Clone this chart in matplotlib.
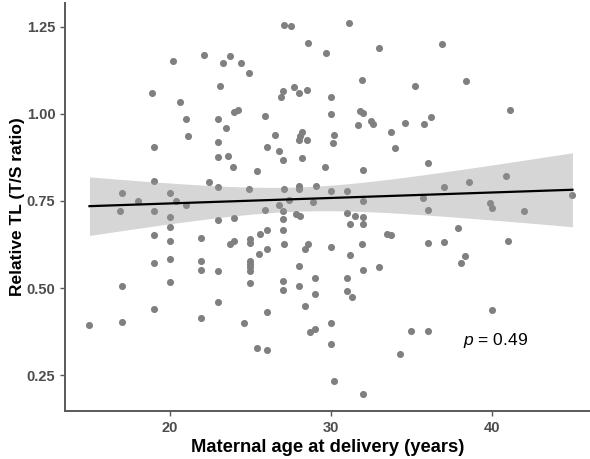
import numpy as np
import matplotlib
matplotlib.use("Agg")
import matplotlib.pyplot as plt

plt.rcParams['font.family'] = ['Liberation Sans', 'DejaVu Sans']
plt.rcParams['mathtext.fontset'] = 'custom'
plt.rcParams['mathtext.it'] = 'Liberation Sans:italic'
plt.rcParams['mathtext.rm'] = 'Liberation Sans'

# maternal age at delivery (years) and relative telomere length (T/S ratio)
age = [
    20.2, 18.9, 20.6, 19.0, 19.0, 17.0, 18.0, 20.0, 20.4, 16.9,
    19.0, 20.0, 20.0, 19.0, 20.0, 19.0, 20.0, 20.0, 17.0, 19.0,
    15.0, 17.0, 21.0, 21.1, 21.0, 22.1, 23.3, 23.7, 24.4, 24.9,
    23.1, 23.0, 23.5, 24.0, 24.2, 23.0, 23.0, 23.6, 23.9, 22.4,
    23.0, 24.9, 25.4, 25.9, 27.1, 27.5, 28.6, 29.7, 31.1, 31.9,
    27.7, 28.0, 28.5, 27.0, 26.9, 30.0, 30.0, 31.8, 32.0, 31.7,
    26.5, 26.0, 26.8, 27.0, 28.1, 28.2, 28.0, 28.5, 28.2, 30.2,
    30.1, 29.6, 32.0, 27.1, 28.0, 28.0, 29.1, 30.0, 31.0, 27.4,
    28.9, 32.0, 26.8, 25.9, 27.0, 27.8, 28.1, 23.0, 24.0, 27.0,
    31.0, 31.5, 32.0, 32.0, 31.2, 21.9, 27.0, 26.0, 25.6, 23.7,
    24.0, 25.0, 25.0, 27.1, 28.6, 28.4, 30.0, 31.9, 26.0, 25.5,
    31.2, 21.9, 21.9, 23.0, 25.0, 25.0, 25.0, 25.0, 28.0, 32.0,
    25.0, 27.0, 27.0, 28.0, 29.0, 29.0, 31.0, 31.0, 31.3, 28.4,
    23.0, 26.0, 21.9, 24.6, 28.7, 29.0, 30.0, 30.0, 25.4, 26.0,
    30.2, 32.0, 33.0, 36.9, 38.4, 35.2, 41.1, 32.5, 32.6, 34.6,
    35.8, 36.2, 33.7, 34.0, 36.0, 40.9, 38.6, 37.0, 35.7, 45.0,
    39.9, 40.0, 36.0, 42.0, 33.5, 33.7, 36.0, 37.0, 37.9, 41.0,
    33.0, 38.3, 38.1, 40.0, 35.0, 36.0, 34.3,
]
rel_tl = [
    1.151, 1.060, 1.034, 0.905, 0.807, 0.772, 0.751, 0.772, 0.751, 0.721,
    0.721, 0.703, 0.676, 0.651, 0.634, 0.573, 0.583, 0.516, 0.507, 0.440,
    0.393, 0.402, 0.985, 0.937, 0.739, 1.170, 1.146, 1.165, 1.146, 1.117,
    1.079, 0.985, 0.959, 1.006, 1.011, 0.918, 0.875, 0.879, 0.846, 0.803,
    0.789, 0.784, 0.835, 0.993, 1.255, 1.251, 1.204, 1.175, 1.261, 1.096,
    1.076, 1.061, 1.068, 1.066, 1.049, 1.048, 0.998, 1.008, 1.001, 0.967,
    0.938, 0.905, 0.892, 0.868, 0.937, 0.947, 0.925, 0.924, 0.872, 0.938,
    0.916, 0.847, 0.838, 0.784, 0.792, 0.785, 0.792, 0.778, 0.779, 0.754,
    0.747, 0.751, 0.739, 0.724, 0.721, 0.713, 0.707, 0.696, 0.701, 0.699,
    0.714, 0.707, 0.703, 0.684, 0.683, 0.643, 0.666, 0.666, 0.655, 0.625,
    0.635, 0.640, 0.628, 0.627, 0.626, 0.611, 0.619, 0.626, 0.612, 0.599,
    0.596, 0.577, 0.551, 0.549, 0.577, 0.568, 0.559, 0.549, 0.563, 0.553,
    0.515, 0.520, 0.495, 0.505, 0.529, 0.482, 0.528, 0.490, 0.475, 0.449,
    0.459, 0.431, 0.414, 0.401, 0.373, 0.383, 0.399, 0.338, 0.327, 0.322,
    0.232, 0.197, 1.188, 1.201, 1.094, 1.079, 1.010, 0.980, 0.972, 0.973,
    0.971, 0.990, 0.947, 0.902, 0.858, 0.822, 0.804, 0.789, 0.758, 0.766,
    0.744, 0.731, 0.724, 0.722, 0.654, 0.653, 0.629, 0.633, 0.672, 0.635,
    0.560, 0.592, 0.571, 0.436, 0.376, 0.378, 0.312,
]
p_label = "$p$ = 0.49"

x = np.array(age)
y = np.array(rel_tl)

# linear fit with 95% confidence band
n = len(x)
slope, intercept = np.polyfit(x, y, 1)
resid = y - (intercept + slope * x)
s = np.sqrt(np.sum(resid ** 2) / (n - 2))
t_crit = 1.974
xs = np.linspace(x.min(), x.max(), 100)
fit = intercept + slope * xs
se = s * np.sqrt(1 / n + (xs - x.mean()) ** 2 / np.sum((x - x.mean()) ** 2))

fig = plt.figure(figsize=(5.9, 4.59), dpi=100)
ax = fig.add_axes([65 / 590, 48 / 459, 525 / 590, 408 / 459])

ax.scatter(x, y, s=26, color='#808080', linewidths=0, zorder=2)
ax.fill_between(xs, fit - t_crit * se, fit + t_crit * se,
                color='#999999', alpha=0.4, linewidth=0, zorder=3)
ax.plot(xs, fit, color='black', linewidth=1.6, zorder=4)

ax.text(40.2, 0.35, p_label, fontsize=12.5, ha='center', va='center')

ax.set_xlim(13.48, 46.09)
ax.set_ylim(0.147, 1.318)
ax.set_xticks([20, 30, 40])
ax.set_yticks([0.25, 0.50, 0.75, 1.00, 1.25])
ax.set_yticklabels(['0.25', '0.50', '0.75', '1.00', '1.25'])

for side in ['top', 'right']:
    ax.spines[side].set_visible(False)
for side in ['left', 'bottom']:
    ax.spines[side].set_color('#5a5a5a')
    ax.spines[side].set_linewidth(1.4)
ax.tick_params(colors='#5a5a5a', length=3.5, width=1, labelsize=10.5)
for lab in ax.get_xticklabels() + ax.get_yticklabels():
    lab.set_fontweight('bold')
    lab.set_color('#4d4d4d')

ax.set_xlabel('Maternal age at delivery (years)', fontsize=13.2, fontweight='bold', labelpad=3)
ax.set_ylabel('Relative TL (T/S ratio)', fontsize=12.5, fontweight='bold', labelpad=1)

fig.savefig('out.png', dpi=100)
